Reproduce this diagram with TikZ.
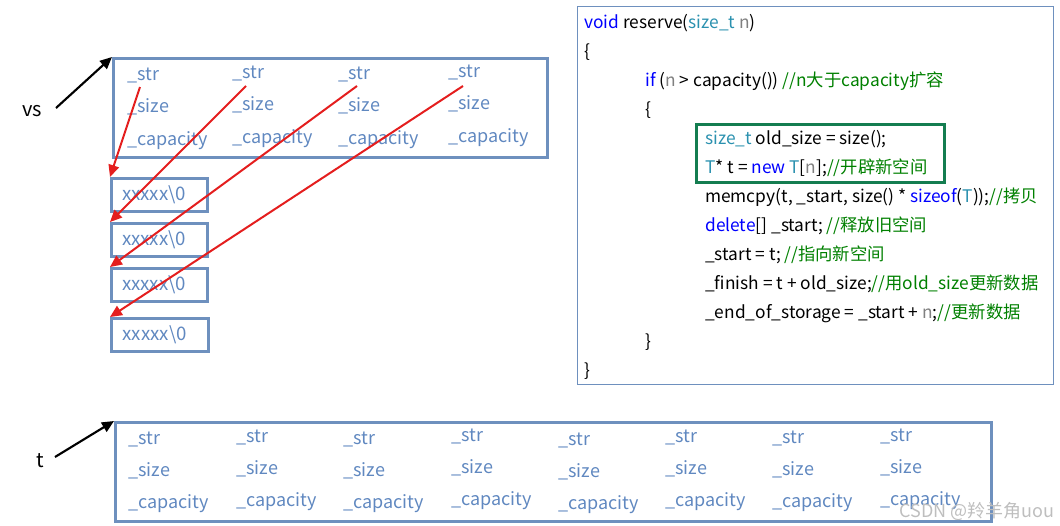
\documentclass[tikz,border=0pt]{standalone}
\usepackage{fontspec}
\setmainfont{Noto Sans CJK SC}
\usetikzlibrary{arrows.meta}
\definecolor{boxblue}{RGB}{110,144,190}
\definecolor{txtblue}{RGB}{96,136,192}
\definecolor{arrred}{RGB}{228,30,30}
\definecolor{kw}{RGB}{0,0,255}
\definecolor{ty}{RGB}{43,145,175}
\definecolor{cm}{RGB}{0,128,0}
\definecolor{gv}{RGB}{128,128,128}
\definecolor{grnbox}{RGB}{20,125,80}
\definecolor{wmgray}{RGB}{190,190,190}
\newcommand{\KW}[1]{\textcolor{kw}{#1}}
\newcommand{\TY}[1]{\textcolor{ty}{#1}}
\newcommand{\CM}[1]{\textcolor{cm}{#1}}
\newcommand{\GV}[1]{\textcolor{gv}{#1}}
\newcommand{\bufstr}{xxxxx\textbackslash 0\kern 8pt\relax}
\tikzset{
  field/.style={anchor=base west,inner sep=0pt,text=txtblue,font=\fontsize{13.5}{15}\selectfont},
  membox/.style={draw=boxblue,line width=2.2pt,anchor=north west,inner sep=0pt,minimum width=72pt,minimum height=24.75pt,text=txtblue,font=\fontsize{14}{15}\selectfont},
  bigbox/.style={draw=boxblue,line width=2.2pt,anchor=north west,inner sep=0pt,minimum height=74.25pt},
  ptr/.style={draw=arrred,line width=1.5pt,-{Triangle[length=9pt,width=8pt]}},
  blk/.style={draw=black,line width=1.6pt,-{Triangle[length=9pt,width=8pt]}},
  code/.style={anchor=base west,inner sep=0pt,font=\fontsize{13}{15}\selectfont},
  varlab/.style={anchor=center,inner sep=0pt,font=\fontsize{15}{17}\selectfont}
}
\begin{document}
\begin{tikzpicture}[x=0.75pt,y=-0.75pt]
\useasboundingbox (0,0) rectangle (1060,525);
% ---- vs box
\node[bigbox,minimum width=325.5pt] (vsbox) at (112,57) {};
\node[varlab] (vs) at (32,111) {vs};
\coordinate (vsstart) at (56,108);
\draw[blk] (vsstart) -- (vsbox.north west);
% fields in vs
\foreach \x/\y [count=\i] in {127/80,232/78,338/79,448/77}{
  \node[field] (s\i) at (\x,\y) {\_str};
  \node[field] (z\i) at (\x,\y+32) {\_size};
  \node[field] (c\i) at (\x,\y+65) {\_capacity};
}
% string buffers
\node[membox] (b1) at (110,177) {\bufstr};
\node[membox] (b2) at (110,222) {\bufstr};
\node[membox] (b3) at (110,267) {\bufstr};
\node[membox,minimum width=72.75pt] (b4) at (110,317) {\bufstr};
\coordinate (p1) at (140,87);
\coordinate (p2) at (246,86);
\coordinate (p3) at (357,86);
\coordinate (p4) at (463,86);
\draw[ptr] (p1) -- (b1.north west);
\draw[ptr] (p2) -- (b2.north west);
\draw[ptr] (p3) -- (b3.north west);
\draw[ptr] (p4) -- (b4.north west);
% ---- t box
\node[bigbox,minimum width=657pt] (tbox) at (114,421) {};
\node[varlab] (t) at (40,461) {t};
\coordinate (tstart) at (55,457);
\draw[blk] (tstart) -- (tbox.north west);
\foreach \x/\y [count=\i] in {128/444,236/442,343/444,451/441,558/445,665/442,772/443,880/441}{
  \node[field] (ts\i) at (\x,\y) {\_str};
  \node[field] (tz\i) at (\x,\y+32) {\_size};
  \node[field] (tc\i) at (\x,\y+64) {\_capacity};
}
% ---- code box
\node[draw=boxblue,line width=0.8pt,anchor=north west,inner sep=0pt,minimum width=357pt,minimum height=283.5pt] (codebox) at (577,6) {};
\node[draw=grnbox,line width=1.9pt,anchor=north west,inner sep=0pt,minimum width=186pt,minimum height=43.5pt] (grn) at (695,123) {};
\node[code] (l1) at (584,28) {\KW{void} reserve(\TY{size\_t} \GV{n})};
\node[code] (l2) at (584,57) {\{};
\node[code] (l3) at (645,86) {\KW{if} (\GV{n} > capacity()) \CM{//n大于capacity扩容}};
\node[code] (l4) at (645,115) {\{};
\node[code] (l5) at (705,144) {\TY{size\_t} old\_size = size();};
\node[code] (l6) at (705,173) {\TY{T}* t = \KW{new} \TY{T}[\GV{n}];\CM{//开辟新空间}};
\node[code] (l7) at (705,202) {memcpy(t, \_start, size() * \KW{sizeof}(\TY{T}));\CM{//拷贝}};
\node[code] (l8) at (705,231) {\KW{delete}[] \_start; \CM{//释放旧空间}};
\node[code] (l9) at (705,260) {\_start = t; \CM{//指向新空间}};
\node[code] (l10) at (705,289) {\_finish = t + old\_size;\CM{//用old\_size更新数据}};
\node[code] (l11) at (705,318) {\_end\_of\_storage = \_start + \GV{n};\CM{//更新数据}};
\node[code] (l12) at (645,347) {\}};
\node[code] (l13) at (584,376) {\}};
% watermark
\node[anchor=base east,inner sep=0pt,text=wmgray,font=\fontsize{13.5}{15}\selectfont] (wm) at (1055,517) {CSDN @羚羊角uou};
\end{tikzpicture}
\end{document}
